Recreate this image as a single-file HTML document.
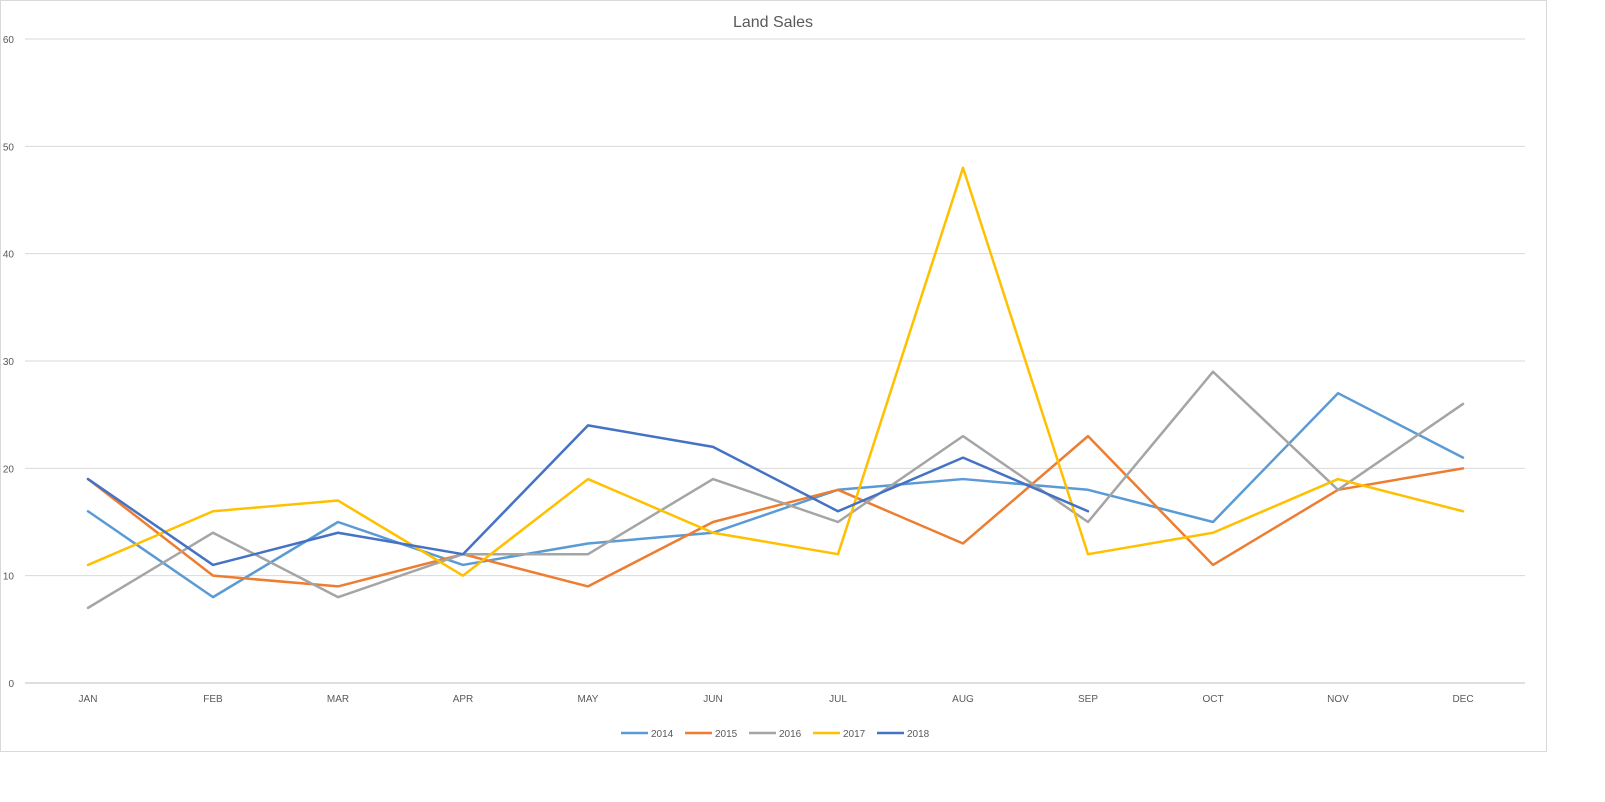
<!DOCTYPE html>
<html><head><meta charset="utf-8"><style>
body{margin:0;background:#fff;}
svg text{font-family:"Liberation Sans",sans-serif;}
</style></head><body>
<svg id="chart" width="1605" height="797">
<rect x="0.5" y="0.5" width="1546" height="751" fill="#fff" stroke="#d9d9d9"/>
<text x="773" y="27" text-anchor="middle" font-size="16" fill="#595959">Land Sales</text>
<g id="grid"></g><g id="series"></g><g id="legend"></g>
</svg>
<script>
const months=["JAN","FEB","MAR","APR","MAY","JUN","JUL","AUG","SEP","OCT","NOV","DEC"];
const yTicks=[0,10,20,30,40,50,60];
const seriesNames=["2014","2015","2016","2017","2018"];
const s2014=[16,8,15,11,13,14,18,19,18,15,27,21];
const s2015=[19,10,9,12,9,15,18,13,23,11,18,20];
const s2016=[7,14,8,12,12,19,15,23,15,29,18,26];
const s2017=[11,16,17,10,19,14,12,48,12,14,19,16];
const s2018=[19,11,14,12,24,22,16,21,16];
const colors=["#5B9BD5","#ED7D31","#A5A5A5","#FFC000","#4472C4"];
const NS="http://www.w3.org/2000/svg";
const xS=i=>88+i*125;
const yS=v=>683-v*(644/60);
function mk(t,a,p){const e=document.createElementNS(NS,t);for(const k in a)e.setAttribute(k,a[k]);p.appendChild(e);return e;}
const grid=document.getElementById('grid');
yTicks.forEach(t=>{
 const l=mk('line',{x1:25,x2:1525,y1:yS(t),y2:yS(t),stroke:t===0?'#bfbfbf':'#d9d9d9','stroke-width':1},grid);
 
 
 const tx=mk('text',{x:14,y:yS(t)+4,'text-anchor':'end','font-size':10,fill:'#595959'},grid);
 tx.textContent=t;
 
 
});
months.forEach((m,i)=>{
 const tx=mk('text',{x:xS(i),y:702,'text-anchor':'middle','font-size':10,fill:'#595959'},grid);
 tx.textContent=m;
 
 
});
const all=[s2014,s2015,s2016,s2017,s2018];
const sg=document.getElementById('series');
all.forEach((d,k)=>{
 const p=mk('polyline',{points:d.map((v,i)=>xS(i)+','+yS(v)).join(' '),fill:'none',stroke:colors[k],'stroke-width':2.5,'stroke-linejoin':'round','stroke-linecap':'round'},sg);
 
 
});
const lg=document.getElementById('legend');
seriesNames.forEach((n,k)=>{
 const x0=621+k*64;
 const l=mk('line',{x1:x0,x2:x0+27,y1:733,y2:733,stroke:colors[k],'stroke-width':2.5},lg);
 
 
 const t=mk('text',{x:x0+30,y:737,'font-size':10,fill:'#595959'},lg);
 t.textContent=n;
 
 
});
</script>
</body></html>
